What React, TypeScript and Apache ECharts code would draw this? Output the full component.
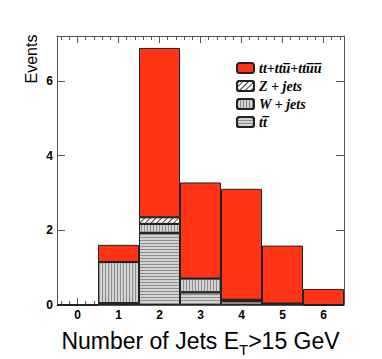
import React, { useEffect, useRef } from "react";
import * as echarts from "echarts";

const bins = ["0", "1", "2", "3", "4", "5", "6"];
const ttbarVals = [0, 0.05, 1.93, 0.34, 0.1, 0.04, 0];
const wjetsVals = [0, 1.1, 0.24, 0.37, 0.04, 0, 0];
const zjetsVals = [0, 0, 0.18, 0, 0, 0, 0];
const signalVals = [0, 0.46, 4.53, 2.57, 2.97, 1.55, 0.43];

const signalName = "tt+ttu\u0305+ttu\u0305u\u0305";
const zName = "Z + jets";
const wName = "W + jets";
const ttName = "tt\u0305";
const legendOrder = [signalName, zName, wName, ttName];

const frameColor = "#555";
const grayFill = "#d2d2d2";
const stripeColor = "#8c8c8c";
const redFill = "#ff3316";

export default function App() {
  const ref = useRef<HTMLDivElement>(null);
  useEffect(() => {
    if (!ref.current) return;
    const chart = echarts.init(ref.current, undefined, { renderer: "svg" });
    const border = { borderColor: "#222", borderWidth: 1 };
    const tickStyle = { color: frameColor, width: 1 };
    const xMinMax = { min: -0.5, max: 6.5 };
    const intLabel = (v: number) => (Math.abs(v - Math.round(v)) < 1e-6 ? String(Math.round(v)) : "");
    const option: any = {
      animation: false,
      textStyle: { fontFamily: "Liberation Sans" },
      grid: { left: 57, right: 38, top: 36, bottom: 54, containLabel: false, outerBoundsMode: "none" },
      legend: {
        orient: "vertical",
        left: 231,
        top: 56,
        itemWidth: 17,
        itemHeight: 10,
        itemGap: 4,
        data: legendOrder,
        selectedMode: false,
        textStyle: {
          fontFamily: "Liberation Serif",
          fontStyle: "italic",
          fontWeight: "bold",
          fontSize: 14,
          color: "#000",
        },
      },
      xAxis: [
        { type: "category", data: bins, show: false, boundaryGap: true, axisLine: { onZero: false } },
        {
          type: "value",
          position: "bottom",
          ...xMinMax,
          minInterval: 1,
          maxInterval: 1,
          axisLine: { show: true, onZero: false, lineStyle: tickStyle },
          axisTick: { show: true, inside: true, length: 7, lineStyle: tickStyle },
          axisLabel: {
            formatter: intLabel,
            fontWeight: "bold",
            fontSize: 12,
            color: "#000",
            margin: 4,
            showMinLabel: false,
            showMaxLabel: false,
          },
          splitLine: { show: false },
          name: "{a|Number of Jets E}{b|T}{a|>15 GeV}",
          nameLocation: "middle",
          nameGap: 24,
          nameTextStyle: {
            rich: {
              a: { fontSize: 23, fontFamily: "Liberation Sans", color: "#000", verticalAlign: "top", lineHeight: 26 },
              b: { fontSize: 15, fontFamily: "Liberation Sans", color: "#000", verticalAlign: "top", padding: [13, 0, 0, 0] },
            },
          },
        },
        {
          type: "value",
          position: "bottom",
          ...xMinMax,
          minInterval: 0.2,
          maxInterval: 0.2,
          axisLine: { show: false, onZero: false },
          axisTick: { show: true, inside: true, length: 4, lineStyle: tickStyle },
          axisLabel: { show: false },
          splitLine: { show: false },
        },
        {
          type: "value",
          position: "top",
          ...xMinMax,
          minInterval: 1,
          maxInterval: 1,
          axisLine: { show: true, onZero: false, lineStyle: tickStyle },
          axisTick: { show: true, inside: true, length: 7, lineStyle: tickStyle },
          axisLabel: { show: false },
          splitLine: { show: false },
        },
        {
          type: "value",
          position: "top",
          ...xMinMax,
          minInterval: 0.2,
          maxInterval: 0.2,
          axisLine: { show: false, onZero: false },
          axisTick: { show: true, inside: true, length: 4, lineStyle: tickStyle },
          axisLabel: { show: false },
          splitLine: { show: false },
        },
      ],
      yAxis: [
        {
          type: "value",
          position: "left",
          min: 0,
          max: 7.2,
          interval: 2,
          axisLine: { show: true, onZero: false, lineStyle: tickStyle },
          axisTick: { show: true, inside: true, length: 8, lineStyle: tickStyle },
          axisLabel: {
            fontWeight: "bold",
            fontSize: 12,
            color: "#000",
            margin: 4,
            showMaxLabel: false,
            formatter: intLabel,
          },
          splitLine: { show: false },
        },
        {
          type: "value",
          position: "right",
          min: 0,
          max: 7.2,
          interval: 2,
          axisLine: { show: true, onZero: false, lineStyle: tickStyle },
          axisTick: { show: true, inside: true, length: 8, lineStyle: tickStyle },
          axisLabel: { show: false },
          splitLine: { show: false },
        },
      ],
      graphic: [
        {
          type: "text",
          x: 31,
          y: 59,
          rotation: Math.PI / 2,
          style: {
            text: "Events",
            font: '16px "Liberation Sans"',
            fill: "#000",
            align: "center",
            verticalAlign: "middle",
          },
        },
      ],
      series: [
        {
          name: ttName,
          type: "bar",
          stack: "all",
          barWidth: "100%",
          xAxisIndex: 0,
          yAxisIndex: 0,
          data: ttbarVals,
          itemStyle: {
            color: grayFill,
            ...border,
            decal: { symbol: "rect", symbolSize: 1, color: stripeColor, dashArrayX: [1, 0], dashArrayY: [1, 2], rotation: 0 },
          },
        },
        {
          name: wName,
          type: "bar",
          stack: "all",
          barWidth: "100%",
          xAxisIndex: 0,
          yAxisIndex: 0,
          data: wjetsVals,
          itemStyle: {
            color: grayFill,
            ...border,
            decal: { symbol: "rect", symbolSize: 1, color: stripeColor, dashArrayX: [1, 2], dashArrayY: [1, 0], rotation: 0 },
          },
        },
        {
          name: zName,
          type: "bar",
          stack: "all",
          barWidth: "100%",
          xAxisIndex: 0,
          yAxisIndex: 0,
          data: zjetsVals,
          itemStyle: {
            color: "#ffffff",
            ...border,
            decal: { symbol: "rect", symbolSize: 1, color: "#444", dashArrayX: [1, 0], dashArrayY: [1, 3], rotation: -Math.PI / 4 },
          },
        },
        {
          name: signalName,
          type: "bar",
          stack: "all",
          barWidth: "100%",
          xAxisIndex: 0,
          yAxisIndex: 0,
          data: signalVals,
          itemStyle: { color: redFill, ...border },
        },
      ],
    };
    chart.setOption(option);
    return () => chart.dispose();
  }, []);
  return (
    <div
      ref={ref}
      style={{ position: "absolute", left: 0, top: 0, width: 382, height: 359, background: "#fff" }}
    />
  );
}
